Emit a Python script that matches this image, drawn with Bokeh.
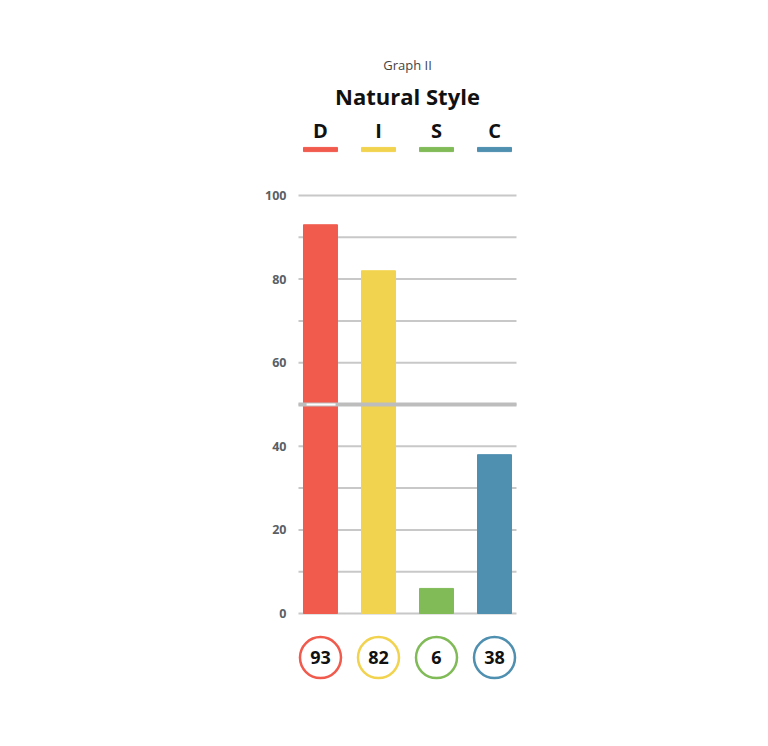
from bokeh.plotting import figure
from bokeh.models import ColumnDataSource, FixedTicker, Range1d
from bokeh.core.properties import value
from bokeh.embed import file_html
from bokeh.resources import INLINE

subtitle = "Graph II"
title = "Natural Style"
categories = ["D", "I", "S", "C"]
values = [93, 82, 6, 38]
colors = ["#F15B4E", "#F2D34F", "#80BB58", "#4F8FB0"]
y_ticks = [0, 20, 40, 60, 80, 100]
grid_levels = [0, 10, 20, 30, 40, 50, 60, 70, 80, 90, 100]
midline = 50

FONT = value("Open Sans")
xs = list(range(len(categories)))

src = ColumnDataSource(dict(x=xs, top=values, color=colors, cat=categories,
                            label=[str(v) for v in values]))

p = figure(width=752, height=730, output_backend="svg", toolbar_location=None,
           x_range=Range1d(-0.448, 3.448), y_range=Range1d(-20.81, 137.08),
           min_border_left=294, min_border_right=232, min_border_top=40,
           min_border_bottom=30)
p.xaxis.visible = False
p.grid.visible = False
p.outline_line_color = None
p.background_fill_color = "white"
p.border_fill_color = "white"

ya = p.yaxis[0]
ya.ticker = FixedTicker(ticks=y_ticks)
ya.axis_line_color = None
ya.major_tick_line_color = None
ya.minor_tick_line_color = None
ya.major_label_standoff = 2
ya.major_label_text_font = "Open Sans"
ya.major_label_text_font_style = "bold"
ya.major_label_text_font_size = "12.5px"
ya.major_label_text_color = "#5a5f66"

# gridlines
gsrc = ColumnDataSource(dict(y=grid_levels,
                             x0=[-0.379] * len(grid_levels),
                             x1=[3.379] * len(grid_levels)))
p.segment(x0="x0", y0="y", x1="x1", y1="y", source=gsrc,
          line_color="#c8c8c8", line_width=2)

# bars
p.vbar(x="x", top="top", bottom=0, width=0.586, color="color", source=src)

# midline over bars
p.segment(x0=[-0.379], y0=[midline], x1=[3.379], y1=[midline],
          line_color="#bdbdbd", line_width=4)
p.segment(x0=[-0.24], y0=[midline], x1=[0.26], y1=[midline],
          line_color="white", line_width=2)

# titles
p.text(x=[1.5], y=[131.1], text=[subtitle], text_font=FONT,
       text_font_size="13px", text_color="#444444",
       text_align="center", text_baseline="middle")
p.text(x=[1.5], y=[123.9], text=[title], text_font=FONT,
       text_font_size="22px", text_font_style="bold", text_color="#111111",
       text_align="center", text_baseline="middle")

# legend letters + underlines
p.text(x="x", y=115.6, text="cat", source=src, text_font=FONT,
       text_font_size="20px", text_font_style="bold", text_color="#111111",
       text_align="center", text_baseline="middle")
p.rect(x="x", y=111.0, width=0.586, height=1.0, color="color", source=src)

# value circles
p.scatter(x="x", y=-10.53, size=41, fill_color="white", line_color="color",
          line_width=2.5, source=src)
p.text(x="x", y=-10.53, text="label", source=src, text_font=FONT,
       text_font_size="18px", text_font_style="bold", text_color="#111111",
       text_align="center", text_baseline="middle")

open("out.html", "w").write(file_html(p, INLINE))
